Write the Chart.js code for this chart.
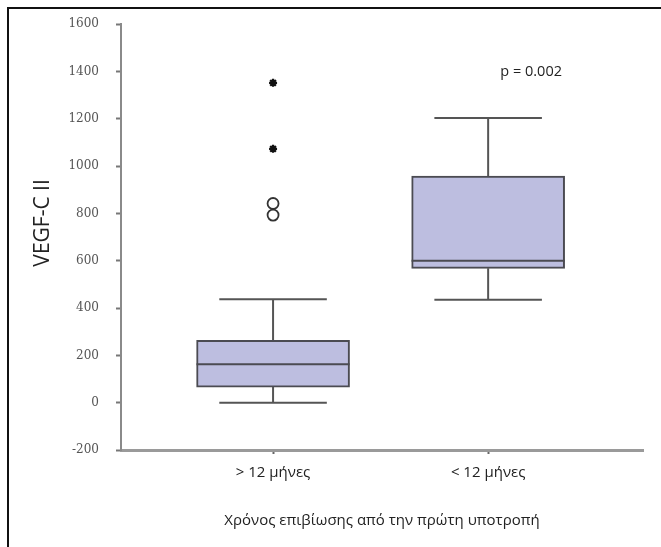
<!DOCTYPE html>
<html>
<head>
<meta charset="utf-8">
<script src="https://cdn.jsdelivr.net/npm/chart.js@4.4.1/dist/chart.umd.min.js"></script>
<style>
  html, body { margin: 0; padding: 0; background: #fff; }
  #wrap { position: relative; width: 661px; height: 547px; }
  #frame { position: absolute; left: 7px; top: 7px; right: -4px; bottom: -4px;
           border-top: 2px solid #111; border-left: 2px solid #111; pointer-events: none; }
</style>
</head>
<body>
<div id="wrap">
  <canvas id="box-plot" width="661" height="547"></canvas>
  <div id="frame"></div>
</div>
<script>
// groups on the x axis
const groups = ["> 12 μήνες", "< 12 μήνες"];
const groupPos = [1, 2];

// box plot statistics (VEGF-C II)
const whiskerLow = [0, 435];
const q1 = [66, 568];
const median = [162, 600];
const q3 = [264, 958];
const whiskerHigh = [437, 1204];

// outliers: circles and extremes (asterisks)
const outliers = [[793, 842], []];
const extremes = [[1073, 1352], []];

// y axis ticks
const yTicks = [-200, 0, 200, 400, 600, 800, 1000, 1200, 1400, 1600];

const pText = "p = 0.002";
const yTitle = "VEGF-C II";
const xTitle = "Χρόνος επιβίωσης από την πρώτη υποτροπή";

// styling
const boxFill = "#bdbee0";
const boxLine = "#4b4b52";
const capHalf = 0.25;    // whisker cap half width, x units
const boxHalf = 0.356;   // box half width, x units

// build line segments (null breaks the line)
var whiskerPts = [];
var capPts = [];
var medianPts = [];
groupPos.forEach(function (x, i) {
    whiskerPts.push({x: x, y: q3[i]}, {x: x, y: whiskerHigh[i]}, {x: x, y: null});
    whiskerPts.push({x: x, y: whiskerLow[i]}, {x: x, y: q1[i]}, {x: x, y: null});
    capPts.push({x: x - capHalf, y: whiskerHigh[i]}, {x: x + capHalf, y: whiskerHigh[i]}, {x: x, y: null});
    capPts.push({x: x - capHalf, y: whiskerLow[i]}, {x: x + capHalf, y: whiskerLow[i]}, {x: x, y: null});
    medianPts.push({x: x - boxHalf, y: median[i]}, {x: x + boxHalf, y: median[i]}, {x: x, y: null});
});

var circlePts = [];
var starPts = [];
groupPos.forEach(function (x, i) {
    outliers[i].forEach(function (v) { circlePts.push({x: x, y: v}); });
    extremes[i].forEach(function (v) { starPts.push({x: x, y: v}); });
});

//texts that are not axis labels
const extraText = {
    id: "extraText",
    afterDraw: function (chart) {
        var ctx = chart.ctx;
        var xs = chart.scales.x, ys = chart.scales.y;
        ctx.save();
        ctx.fillStyle = "#222";
        ctx.textAlign = "center";
        ctx.textBaseline = "middle";
        ctx.font = "14.5px 'Open Sans'";
        ctx.fillText(pText, xs.getPixelForValue(2.2), ys.getPixelForValue(1400));
        ctx.translate(chart.chartArea.left - 78, ys.getPixelForValue(760));
        ctx.rotate(-Math.PI / 2);
        ctx.font = "21px 'Open Sans'";
        ctx.fillText(yTitle, 0, 0);
        ctx.restore();
    }
};

new Chart("box-plot", {
    type: "bar",
    data: {
        datasets: [
            {
                type: "bar",
                label: "box",
                data: groupPos.map(function (x, i) { return {x: x, y: [q1[i], q3[i]]}; }),
                backgroundColor: boxFill,
                borderColor: boxLine,
                borderWidth: 2,
                borderSkipped: false,
                barThickness: 153,
                order: 2
            },
            {
                type: "line",
                label: "median",
                data: medianPts,
                borderColor: boxLine,
                borderWidth: 2,
                pointRadius: 0,
                spanGaps: false,
                order: 1
            },
            {
                type: "line",
                label: "whiskers",
                data: whiskerPts,
                borderColor: "#555",
                borderWidth: 2,
                pointRadius: 0,
                spanGaps: false,
                order: 3
            },
            {
                type: "line",
                label: "caps",
                data: capPts,
                borderColor: "#555",
                borderWidth: 2,
                pointRadius: 0,
                spanGaps: false,
                order: 3
            },
            {
                type: "scatter",
                label: "outliers",
                data: circlePts,
                pointStyle: "circle",
                pointRadius: 5.5,
                borderColor: "#333",
                backgroundColor: "rgba(0,0,0,0)",
                borderWidth: 1.8,
                order: 0
            },
            {
                type: "scatter",
                label: "extremes",
                data: starPts,
                pointStyle: "star",
                pointRadius: 4,
                borderColor: "#111",
                borderWidth: 2.2,
                order: 0
            }
        ]
    },
    options: {
        responsive: false,
        animation: false,
        layout: {
            padding: {top: 24, right: 18, left: 0, bottom: 0}
        },
        plugins: {
            legend: {display: false},
            tooltip: {enabled: false}
        },
        scales: {
            x: {
                type: "linear",
                min: 0.293,
                max: 2.72,
                offset: false,
                afterBuildTicks: function (s) {
                    s.ticks = groupPos.map(function (v) { return {value: v}; });
                },
                afterFit: function (s) { s.height = 97; },
                ticks: {
                    callback: function (v, i) { return groups[i]; },
                    autoSkip: false,
                    maxRotation: 0,
                    padding: 10,
                    color: "#222",
                    font: {family: "'Open Sans'", size: 15}
                },
                grid: {
                    offset: false,
                    drawOnChartArea: false,
                    drawTicks: true,
                    tickLength: 4,
                    tickWidth: 2,
                    color: "#666"
                },
                border: {color: "#9a9a9a", width: 3},
                title: {
                    display: true,
                    text: xTitle,
                    color: "#222",
                    font: {family: "'Open Sans'", size: 15},
                    padding: {top: 0, bottom: 17}
                }
            },
            y: {
                min: -200,
                max: 1600,
                afterBuildTicks: function (s) {
                    s.ticks = yTicks.map(function (v) { return {value: v}; });
                },
                afterFit: function (s) { s.width = 121; },
                ticks: {
                    callback: function (v) { return String(v); },
                    padding: 17,
                    color: "#555",
                    font: {family: "'DejaVu Serif'", size: 12}
                },
                grid: {
                    drawOnChartArea: false,
                    drawTicks: true,
                    tickLength: 5,
                    tickWidth: 2,
                    color: "#777"
                },
                border: {color: "#8a8a8a", width: 2}
            }
        }
    },
    plugins: [extraText]
});
</script>
</body>
</html>
